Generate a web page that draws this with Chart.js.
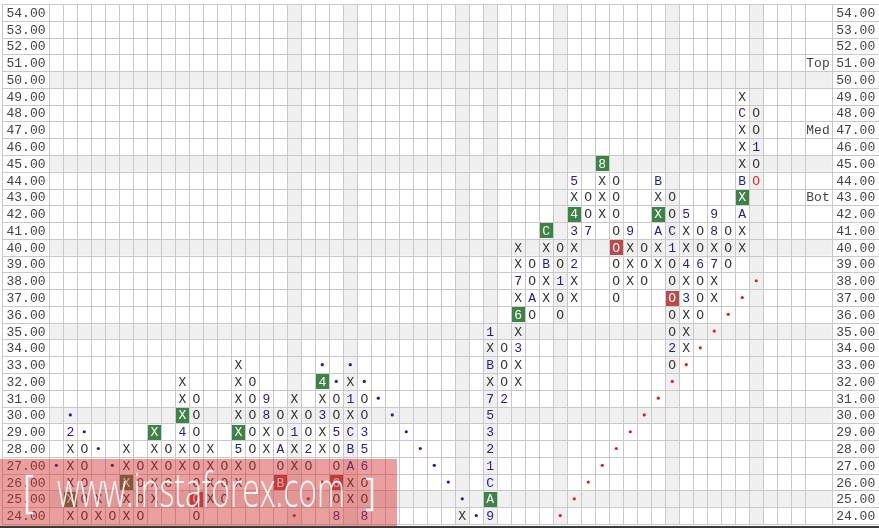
<!DOCTYPE html>
<html>
<head>
<meta charset="utf-8">
<script src="https://cdn.jsdelivr.net/npm/chart.js@4.4.1/dist/chart.umd.min.js"></script>
<style>
  html, body { margin: 0; padding: 0; background: #fff; }
  #wrap { width: 879px; height: 528px; position: relative; }
</style>
</head>
<body>
<div id="wrap"><canvas id="pfChart"></canvas></div>
<script>
// price rows (box size 1.00)
const priceTicks = [54, 53, 52, 51, 50, 49, 48, 47, 46, 45, 44, 43, 42, 41, 40, 39, 38, 37, 36, 35, 34, 33, 32, 31, 30, 29, 28, 27, 26, 25, 24];

// [column, lowest box, marks from bottom to top]; digits/letters are month codes
const columns = [
  [1, 24, 'XXXXX2'],
  [2, 24, 'OOOOO'],
  [3, 24, 'XX'],
  [4, 24, 'O'],
  [5, 24, 'XXXXX'],
  [6, 24, 'OOOO'],
  [7, 25, 'XXXXX'],
  [8, 26, 'OOO'],
  [9, 27, 'XX4XXX'],
  [10, 24, 'OOOOOOOO'],
  [11, 25, 'XXXX'],
  [12, 25, 'OOO'],
  [13, 26, 'XX5XXXXX'],
  [14, 27, 'OOOOOO'],
  [15, 28, 'XX89'],
  [16, 26, 'BOAOO'],
  [17, 27, 'XX1XX'],
  [18, 27, 'O2OO'],
  [19, 28, 'XX3X4'],
  [20, 24, '8O6OO5OO'],
  [21, 25, 'XXABCX1X'],
  [22, 24, '8OO653OO'],
  [29, 24, 'X'],
  [31, 24, '9AC12357XBX1'],
  [32, 31, '2OOO'],
  [33, 32, 'XX3X6X7XX'],
  [34, 36, 'OAOO'],
  [35, 37, 'XXBXC'],
  [36, 36, 'OO1OO'],
  [37, 37, 'XX2X34X5'],
  [38, 41, '7OO'],
  [39, 42, 'XXX8'],
  [40, 37, 'OOOOOOOO'],
  [41, 38, 'XXX9'],
  [42, 38, 'OOO'],
  [43, 39, 'XXAXXB'],
  [44, 33, 'O2OOOOO1COO'],
  [45, 34, 'XXX3X4XX5'],
  [46, 36, 'OOO6OO'],
  [47, 37, 'XX7X89'],
  [48, 39, 'OOO'],
  [49, 40, 'XXAXBXXXCX'],
  [50, 44, 'OO1OO']
];

const greenBoxes = [[1, 25], [5, 26], [7, 29], [9, 30], [13, 29], [19, 32], [31, 25], [33, 36], [35, 41], [37, 42], [39, 45], [43, 42], [49, 43]];
const redBoxes = [[10, 25], [16, 26], [20, 26], [40, 40], [44, 37]];
const lastBox = [50, 44];

const blueDots = [[0, 27], [1, 30], [2, 29], [3, 28], [4, 27], [19, 33], [20, 32], [21, 33], [22, 32], [23, 31], [24, 30], [25, 29], [26, 28], [27, 27], [28, 26], [29, 25], [30, 24]];
const redDots = [[17, 24], [18, 25], [19, 26], [36, 24], [37, 25], [38, 26], [39, 27], [40, 28], [41, 29], [42, 30], [43, 31], [44, 32], [45, 33], [46, 34], [47, 35], [48, 36], [49, 37], [50, 38]];

const shadedCols = [17, 21, 29, 31, 36, 44, 50];
const shadedRows = [50, 45, 40, 35, 30, 25];
const sideLabels = [['Top', 51], ['Med', 47], ['Bot', 43]];

const FONT = '13px "Liberation Mono", "Courier New", monospace';

// build cells
const key = (c, v) => c + ':' + v;
const cells = [];
columns.forEach(([col, low, marks]) => {
  [...marks].forEach((ch, k) => cells.push({ x: col, y: low + k, t: ch }));
});
const boxed = new Set([...greenBoxes, ...redBoxes, lastBox].map(([c, v]) => key(c, v)));
const textOf = (c, v) => (cells.find(p => p.x === c && p.y === v) || {}).t || '';
const plain = cells.filter(p => !boxed.has(key(p.x, p.y)));
const xoCells = plain.filter(p => p.t === 'X' || p.t === 'O');
const monthCells = plain.filter(p => p.t !== 'X' && p.t !== 'O');
const toBoxes = list => list.map(([c, v]) => ({ x: c, y: v, t: textOf(c, v) }));
const toDots = list => list.map(([c, v]) => ({ x: c, y: v }));

const pfGrid = {
  id: 'pfGrid',
  beforeDraw(chart) {
    const { ctx, chartArea: a, scales: { x, y } } = chart;
    ctx.save();
    ctx.fillStyle = '#fff';
    ctx.fillRect(0, 0, chart.width, chart.height);

    ctx.fillStyle = '#f0f0f0';
    shadedRows.forEach(v => {
      const t = y.getPixelForValue(v + 0.5), b = y.getPixelForValue(v - 0.5);
      ctx.fillRect(a.left, t, a.right - a.left, b - t);
    });
    shadedCols.forEach(c => {
      const l = x.getPixelForValue(c - 0.5), r = x.getPixelForValue(c + 0.5);
      ctx.fillRect(l, a.top, r - l, a.bottom - a.top);
    });

    ctx.strokeStyle = '#c9c9c9';
    ctx.lineWidth = 1;
    ctx.beginPath();
    for (let v = 23.5; v <= 54.5; v++) {
      const py = Math.round(y.getPixelForValue(v)) + 0.5;
      ctx.moveTo(2, py);
      ctx.lineTo(chart.width, py);
    }
    for (let c = 0; c <= 54; c++) {
      const px = Math.round(x.getPixelForValue(c - 0.5)) + 0.5;
      ctx.moveTo(px, a.top);
      ctx.lineTo(px, a.bottom);
    }
    const rx = Math.round(a.right) + 0.5;
    ctx.moveTo(rx, a.top);
    ctx.lineTo(rx, a.bottom);
    ctx.moveTo(2.5, a.top);
    ctx.lineTo(2.5, a.bottom);
    ctx.stroke();

    ctx.font = FONT;
    ctx.fillStyle = '#444';
    ctx.textBaseline = 'middle';
    priceTicks.forEach(v => {
      const py = y.getPixelForValue(v) + 1;
      ctx.textAlign = 'left';
      ctx.fillText(v.toFixed(2), 6.5, py);
      ctx.fillText(v.toFixed(2), a.right + 4.5, py);
    });
    ctx.textAlign = 'right';
    sideLabels.forEach(([txt, v]) => {
      ctx.fillText(txt, a.right - 2, y.getPixelForValue(v) + 1);
    });
    ctx.restore();
  },
  afterDatasetsDraw(chart) {
    const ctx = chart.ctx;
    ctx.save();
    ctx.font = FONT;
    ctx.textAlign = 'center';
    ctx.textBaseline = 'middle';
    chart.data.datasets.forEach((ds, i) => {
      if (!ds.textColor) return;
      const meta = chart.getDatasetMeta(i);
      meta.data.forEach((el, j) => {
        const px = Math.round(el.x), py = Math.round(el.y);
        if (ds.boxColor) {
          ctx.fillStyle = ds.boxColor;
          ctx.fillRect(px - 6, py - 7, 13, 15);
        }
        ctx.fillStyle = ds.textColor;
        ctx.fillText(ds.data[j].t, el.x, el.y + 1);
      });
    });
    ctx.restore();
  },
  afterDraw(chart) {
    // site watermark strip
    const ctx = chart.ctx;
    ctx.save();
    ctx.fillStyle = 'rgba(210,40,40,0.45)';
    ctx.fillRect(0, 459, 397, 67);
    ctx.fillStyle = 'rgba(255,255,255,0.92)';
    ctx.strokeStyle = 'rgba(255,255,255,0.92)';
    const txt = 'www.instaforex.com';
    ctx.font = '300 47px "Open Sans", "DejaVu Sans", sans-serif';
    const w = ctx.measureText(txt).width;
    ctx.translate(57, 507);
    ctx.scale(288 / w, 1);
    ctx.textBaseline = 'alphabetic';
    ctx.fillText(txt, 0, 0);
    ctx.setTransform(1, 0, 0, 1, 0, 0);
    ctx.lineWidth = 2.5;
    ctx.beginPath();
    ctx.moveTo(33, 476); ctx.lineTo(27, 476); ctx.lineTo(27, 513); ctx.lineTo(33, 513);
    ctx.moveTo(366, 479); ctx.lineTo(372, 479); ctx.lineTo(372, 510); ctx.lineTo(366, 510);
    ctx.stroke();
    ctx.fillStyle = '#3a3a3a';
    ctx.fillRect(0, 526, chart.width, 2);
    ctx.restore();
  }
};

const ctx = document.getElementById('pfChart').getContext('2d');
const pfChart = new Chart(ctx, {
  type: 'scatter',
  data: {
    datasets: [
      { label: 'X/O', data: xoCells, pointRadius: 0, textColor: '#333' },
      { label: 'Months', data: monthCells, pointRadius: 0, textColor: '#22228c' },
      { label: 'Buy', data: toBoxes(greenBoxes), pointRadius: 0, textColor: '#fff', boxColor: '#3d8346' },
      { label: 'Sell', data: toBoxes(redBoxes), pointRadius: 0, textColor: '#fff', boxColor: '#bd4a4a' },
      { label: 'Last', data: toBoxes([lastBox]), pointRadius: 0, textColor: '#e02a2a' },
      { label: 'Resistance', data: toDots(blueDots), pointRadius: 1.6, pointBackgroundColor: '#22228c', pointBorderWidth: 0 },
      { label: 'Support', data: toDots(redDots), pointRadius: 1.6, pointBackgroundColor: '#d42020', pointBorderWidth: 0 }
    ]
  },
  options: {
    responsive: true,
    maintainAspectRatio: false,
    animation: false,
    events: [],
    layout: { padding: { left: 49.3, right: 47.3, top: 1, bottom: 0 } },
    scales: {
      x: { type: 'linear', min: -0.5, max: 55.39, display: false },
      y: { type: 'linear', min: 23.5, max: 54.5, display: false }
    },
    plugins: {
      legend: { display: false },
      tooltip: { enabled: false }
    }
  },
  plugins: [pfGrid]
});
</script>
</body>
</html>
